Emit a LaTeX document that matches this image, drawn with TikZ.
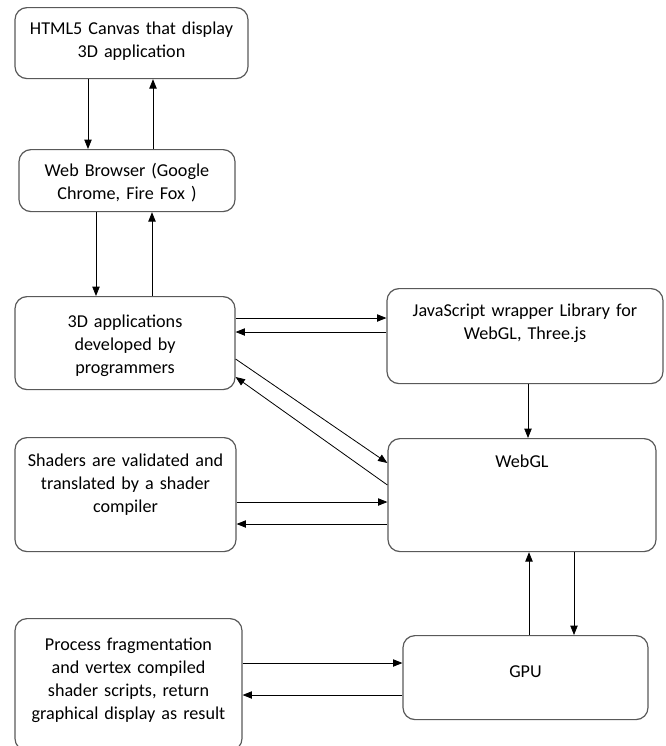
\documentclass[tikz,border=0pt]{standalone}
\usepackage{fontspec}
\setmainfont{Carlito}
\usetikzlibrary{arrows.meta}

\tikzset{
  box/.style={draw=black!65, line width=0.9pt, rounded corners=9pt, anchor=north,
    align=center, inner xsep=0pt, inner ysep=0pt,
    font=\fontsize{13.6}{17.25}\selectfont},
  arr/.style={-{Triangle[length=7pt,width=5.5pt]}, line width=0.6pt},
}

\begin{document}
\begin{tikzpicture}[x=0.75pt,y=-0.75pt]
  \useasboundingbox (0,0) rectangle (665,746);
  % boxes, placed by their top centre
  \node[box,text width=174.75pt,text height=20.25pt,text depth=33pt] (html) at (131.5,7)
    {HTML5 Canvas that display\\3D application};
  \node[box,text width=162pt,text height=20.25pt,text depth=26.25pt] (browser) at (127,149)
    {Web Browser (Google\\Chrome, Fire Fox )};
  \node[box,text width=165pt,text height=23.25pt,text depth=46.5pt] (apps) at (125,296)
    {3D applications\\developed by\\programmers};
  \node[box,text width=207pt,text height=21pt,text depth=50.25pt] (js) at (525,288)
    {JavaScript wrapper Library for\\WebGL, Three.js};
  \node[box,text width=201pt,text height=21.75pt,text depth=63pt] (webgl) at (522,438)
    {WebGL};
  \node[box,text width=165.75pt,text height=21.75pt,text depth=63.75pt] (shaders) at (125.5,437)
    {Shaders are validated and\\translated by a shader\\compiler};
  \node[box,text width=183.75pt,text height=31.5pt,text depth=31.5pt] (gpu) at (525.5,635)
    {GPU};
  \node[box,text width=170.25pt,text height=24pt,text depth=75pt] (process) at (128.5,618)
    {Process fragmentation\\and vertex compiled\\shader scripts, return\\graphical display as result};

  % vertical links
  \draw[arr] (88,0 |- html.south) -- (88,0 |- browser.north);
  \draw[arr] (153,0 |- browser.north) -- (153,0 |- html.south);
  \draw[arr] (96,0 |- browser.south) -- (96,0 |- apps.north);
  \draw[arr] (152,0 |- apps.north) -- (152,0 |- browser.south);
  \draw[arr] (528,0 |- js.south) -- (528,0 |- webgl.north);
  \draw[arr] (574,0 |- webgl.south) -- (574,0 |- gpu.north);
  \draw[arr] (529,0 |- gpu.north) -- (529,0 |- webgl.south);

  % horizontal links
  \draw[arr] (0,318 -| apps.east) -- (0,318 -| js.west);
  \draw[arr] (0,332 -| js.west) -- (0,332 -| apps.east);
  \draw[arr] (0,502 -| shaders.east) -- (0,502 -| webgl.west);
  \draw[arr] (0,524 -| webgl.west) -- (0,524 -| shaders.east);
  \draw[arr] (0,663 -| process.east) -- (0,663 -| gpu.west);
  \draw[arr] (0,695 -| gpu.west) -- (0,695 -| process.east);

  % diagonal links
  \draw[arr] (0,359 -| apps.east) -- (0,463 -| webgl.west);
  \draw[arr] (0,485 -| webgl.west) -- (0,377 -| apps.east);
\end{tikzpicture}
\end{document}
